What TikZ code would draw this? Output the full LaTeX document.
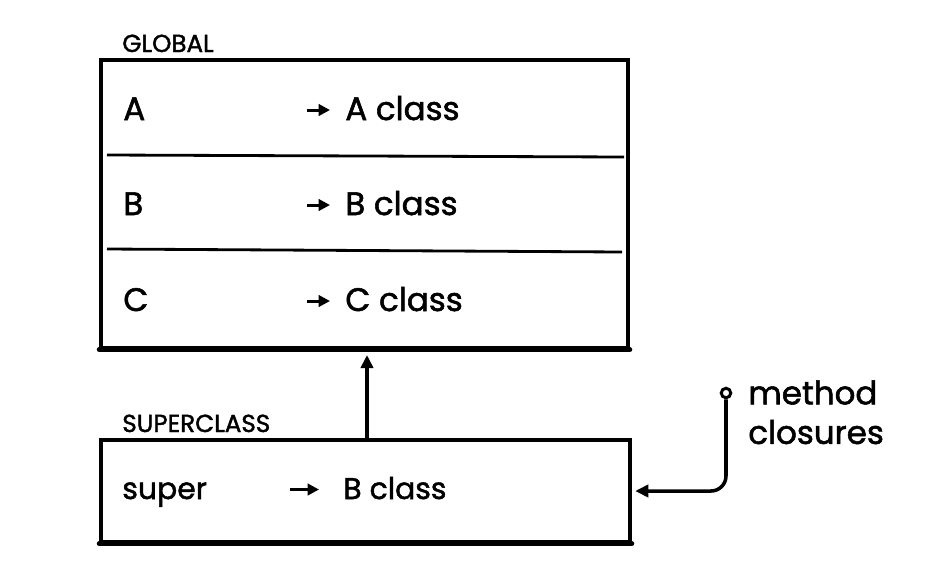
\documentclass[tikz,border=0pt]{standalone}
\usepackage{fontspec}
\setmainfont{Poppins}
\newfontfamily\handfont{Poppins}[FakeBold=1.6]
\usetikzlibrary{arrows.meta}
\begin{document}
\begin{tikzpicture}[x=0.02cm,y=-0.02cm,
  box/.style={draw, line width=2pt, inner sep=0pt},
  heavy/.style={line width=2.9pt, line cap=round},
  divider/.style={line width=1.6pt},
  lbl/.style={inner sep=0pt, anchor=base west, font=\handfont\fontsize{14}{16}\selectfont},
  txt/.style={inner sep=0pt, anchor=base west, font=\handfont\fontsize{18.5}{22}\selectfont},
  stxt/.style={txt, font=\handfont\fontsize{17}{20}\selectfont},
  rowarrow/.style={line width=1.7pt, -{Triangle[length=6.5pt,width=6.5pt]}},
  conn/.style={line width=2pt, -{Triangle[length=7.5pt,width=7pt]}}]
\useasboundingbox (0,0) rectangle (944,576);
% global box
\node[box, minimum width=10.54cm, minimum height=5.76cm] (glob) at (364.5,204) {};
\draw[heavy] (glob.south west) -- (glob.south east);
\node[lbl] (globlbl) at (122,52) {GLOBAL};
\coordinate (d1l) at (107,155); \coordinate (d1r) at (624,157);
\coordinate (d2l) at (107,249); \coordinate (d2r) at (622,252);
\draw[divider] (d1l) -- (d1r);
\draw[divider] (d2l) -- (d2r);
\node[txt] (keyA) at (123,120) {A};
\node[txt] (valA) at (345,120) {A class};
\node[txt] (keyB) at (123,215) {B};
\node[txt] (valB) at (345,215) {B class};
\node[txt] (keyC) at (123,311) {C};
\node[txt] (valC) at (345,311) {C class};
\foreach \v in {valA,valB,valC}
  \draw[rowarrow] ([xshift=-0.76cm,yshift=0.2cm]\v.base west) -- ([xshift=-0.3cm,yshift=0.2cm]\v.base west);
% superclass box
\node[box, minimum width=10.58cm, minimum height=2.04cm] (sup) at (365.5,491) {};
\draw[heavy] (sup.south west) -- (sup.south east);
\node[lbl] (suplbl) at (122,432) {SUPERCLASS};
\node[stxt] (keyS) at (122,499) {super};
\node[stxt] (valS) at (343,499) {B class};
\draw[rowarrow] ([xshift=-1.06cm,yshift=0.19cm]valS.base west) -- ([xshift=-0.48cm,yshift=0.19cm]valS.base west);
% inheritance arrow
\coordinate (ax) at (367,0);
\draw[conn, shorten >=3pt] (sup.north -| ax) -- (glob.south -| ax);
% method closures
\node[circle, draw, line width=1.7pt, inner sep=0pt, minimum size=0.19cm] (dot) at (726,393) {};
\node[inner sep=0pt, anchor=north west, align=left, font=\handfont\fontsize{18.5}{22.5}\selectfont] (mc) at (748,380) {method\\closures};
\draw[conn, rounded corners=0.3cm, shorten >=2pt] (dot.south) |- (sup.east);
\end{tikzpicture}
\end{document}
